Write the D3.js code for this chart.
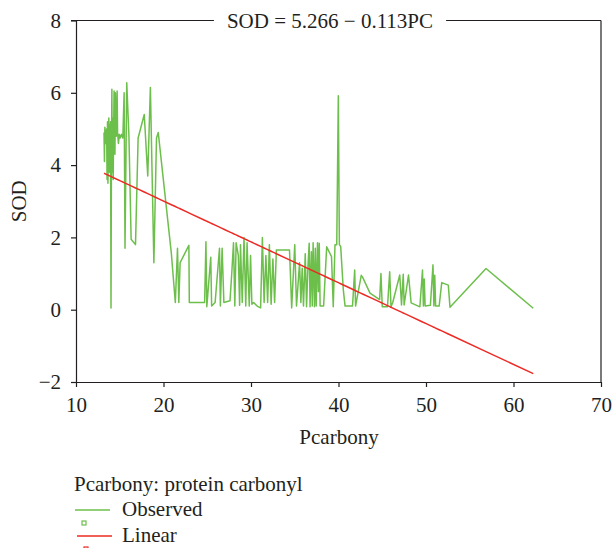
<!DOCTYPE html>
<html>
<head>
<meta charset="utf-8">
<script src="https://cdn.jsdelivr.net/npm/d3@7"></script>
<style>
  body { margin: 0; background: #fff; }
  text { font-family: "Liberation Serif", "DejaVu Serif", serif; fill: #231f20; }
</style>
</head>
<body>
<div id="chart"></div>
<script>
// observed points, sorted by Pcarbony
const pcarbony = [
  13.2, 13.25, 13.3, 13.4, 13.5, 13.55, 13.6, 13.65, 13.7, 13.75, 13.8, 13.85, 13.9, 13.95,
  14.0, 14.05, 14.1, 14.15, 14.2, 14.25, 14.3, 14.35, 14.45, 14.5, 14.6, 14.7, 14.75, 14.85,
  14.95, 15.05, 15.2, 15.35, 15.5, 15.6, 15.8, 16.05, 16.3, 16.8, 17.1, 17.8, 18.2, 18.5,
  18.9, 19.2, 19.4, 20.9, 21.35, 21.6, 21.75, 21.9, 22.9, 22.95, 24.7, 24.85, 24.95, 25.4,
  25.5, 25.9, 26.4, 26.5, 26.7, 26.9, 27.6, 27.8, 28.0, 28.15, 28.3, 28.55, 28.7, 28.8,
  29.0, 29.2, 29.4, 29.55, 29.8, 29.95, 30.1, 30.3, 30.7, 31.1, 31.3, 31.5, 31.7, 31.9,
  32.1, 32.3, 32.5, 32.7, 32.9, 34.4, 34.65, 35.0, 35.2, 35.55, 35.7, 35.85, 36.0, 36.2,
  36.35, 36.5, 36.65, 36.75, 36.9, 37.0, 37.1, 37.25, 37.35, 37.45, 37.6, 37.7, 37.8, 37.9,
  38.3, 38.65, 39.2, 39.4, 39.6, 39.8, 39.98, 40.1, 40.25, 40.55, 40.75, 41.6, 41.85, 41.95,
  42.6, 42.75, 43.6, 44.7, 44.85, 45.0, 45.6, 45.85, 46.0, 46.2, 47.0, 47.2, 47.4, 47.5,
  48.0, 48.3, 49.3, 49.6, 49.7, 49.8, 49.9, 50.5, 50.7, 50.8, 50.9, 51.0, 51.1, 51.5,
  51.8, 52.55, 52.74, 56.86, 62.26
];
const sodObserved = [
  4.9, 4.1, 5.05, 4.6, 5.0, 3.6, 5.2, 3.5, 4.7, 5.3, 3.8, 5.1, 4.0, 5.2,
  0.05, 4.2, 6.1, 3.8, 5.3, 3.6, 4.9, 6.05, 4.3, 6.0, 4.8, 6.05, 4.9, 4.6,
  4.85, 4.75, 4.85, 4.75, 6.0, 1.7, 6.28, 4.8, 1.95, 1.8, 4.75, 5.4, 3.7, 6.15,
  1.3, 4.75, 4.9, 1.55, 0.2, 1.7, 0.2, 1.3, 1.78, 0.2, 0.2, 1.88, 0.08, 1.45,
  0.1, 0.2, 1.7, 0.1, 1.7, 0.2, 0.25, 1.0, 1.85, 0.1, 1.85, 1.5, 0.12, 1.8,
  0.2, 2.0, 0.1, 1.85, 0.1, 1.5, 0.15, 0.2, 0.1, 0.05, 2.0, 0.2, 1.5, 0.2,
  1.8, 0.15, 1.4, 0.2, 1.65, 1.65, 0.05, 1.8, 0.1, 1.3, 0.2, 1.15, 0.1, 1.55,
  0.08, 1.15, 1.84, 0.08, 1.6, 0.1, 1.85, 0.08, 1.7, 0.1, 1.85, 0.5, 1.84, 0.1,
  0.1, 1.74, 1.47, 0.08, 1.8, 1.8, 5.92, 1.8, 1.75, 0.55, 0.1, 0.1, 1.1, 0.1,
  0.95, 0.9, 0.46, 0.28, 1.0, 0.08, 0.08, 1.05, 0.08, 0.2, 0.96, 0.13, 0.98, 0.13,
  0.96, 0.19, 0.08, 1.1, 0.1, 0.85, 0.1, 0.12, 0.87, 1.24, 0.1, 0.95, 0.1, 0.1,
  0.75, 0.68, 0.07, 1.14, 0.04
];
const fitIntercept = 5.266;
const fitSlope = -0.113;
const xTicks = [10, 20, 30, 40, 50, 60, 70];
const yTicks = [-2, 0, 2, 4, 6, 8];
const titleText = 'SOD = 5.266 \u2212 0.113PC';
const legendTitle = 'Pcarbony: protein carbonyl';
const seriesNames = ['Observed', 'Linear'];
const seriesColors = ['#6dbf4b', '#ee2a24'];

let dim = {width: 614, height: 548, left: 76, right: 601, top: 20.5, bottom: 382};
const ink = '#231f20';
const fontSize = 21;

let svg = d3.select('#chart').append('svg')
    .attr('width', dim.width)
    .attr('height', dim.height);

let scaleX = d3.scaleLinear().domain([10, 70]).range([dim.left, dim.right]);
let scaleY = d3.scaleLinear().domain([-2, 8]).range([dim.bottom, dim.top]);

let observed = pcarbony.map((x, i) => ({x: x, y: sodObserved[i]}));
let fitted = pcarbony.map(x => ({x: x, y: fitIntercept + fitSlope * x}));

let line = d3.line().x(d => scaleX(d.x)).y(d => scaleY(d.y));

// axes
let axisX = d3.axisBottom(scaleX).tickValues(xTicks).tickSize(5).tickSizeOuter(0).tickPadding(10)
    .tickFormat(d3.format('d'));
let axisY = d3.axisLeft(scaleY).tickValues(yTicks).tickSize(5).tickSizeOuter(0).tickPadding(10)
    .tickFormat(d => d < 0 ? '\u2212' + Math.abs(d) : d);

function styleAxis(g) {
  g.attr('font-size', fontSize).attr('font-family', null);
  g.selectAll('path, line').attr('stroke', ink).attr('stroke-width', 1.2);
  g.selectAll('text').attr('fill', ink);
}

svg.append('g')
    .attr('transform', `translate(0,${dim.bottom})`)
    .call(axisX)
    .call(styleAxis);

svg.append('g')
    .attr('transform', `translate(${dim.left},0)`)
    .call(axisY)
    .call(styleAxis);

// frame: right side and top with gap for the equation
svg.append('line')
    .attr('x1', dim.right).attr('x2', dim.right)
    .attr('y1', dim.top).attr('y2', dim.bottom)
    .attr('stroke', ink).attr('stroke-width', 1.2);

let tx = 330;
let title = svg.append('text')
    .attr('x', tx)
    .attr('y', dim.top + 7)
    .attr('text-anchor', 'middle')
    .attr('font-size', fontSize)
    .text(titleText);
let tw = title.node().getComputedTextLength();

svg.append('line')
    .attr('x1', dim.left - 5).attr('x2', tx - tw / 2 - 13)
    .attr('y1', dim.top).attr('y2', dim.top)
    .attr('stroke', ink).attr('stroke-width', 1.2);
svg.append('line')
    .attr('x1', tx + tw / 2 + 13).attr('x2', dim.right)
    .attr('y1', dim.top).attr('y2', dim.top)
    .attr('stroke', ink).attr('stroke-width', 1.2);

// series
svg.append('path')
    .datum(observed)
    .attr('d', line)
    .attr('fill', 'none')
    .attr('stroke', seriesColors[0])
    .attr('stroke-width', 1.5)
    .attr('stroke-linejoin', 'round');

svg.append('path')
    .datum(fitted)
    .attr('d', line)
    .attr('fill', 'none')
    .attr('stroke', seriesColors[1])
    .attr('stroke-width', 1.5);

// axis titles
svg.append('text')
    .attr('x', 339)
    .attr('y', 444)
    .attr('text-anchor', 'middle')
    .attr('font-size', fontSize)
    .text('Pcarbony');

svg.append('text')
    .attr('transform', `translate(26,${(dim.top + dim.bottom) / 2}) rotate(-90)`)
    .attr('text-anchor', 'middle')
    .attr('font-size', fontSize)
    .text('SOD');

// legend
let legend = svg.append('g');
legend.append('text')
    .attr('x', 74).attr('y', 491)
    .attr('font-size', fontSize)
    .text(legendTitle);

seriesNames.forEach((name, i) => {
  let y0 = 510 + i * 26;
  legend.append('line')
      .attr('x1', 75 + i * 2).attr('x2', 110 + i * 2)
      .attr('y1', y0).attr('y2', y0)
      .attr('stroke', seriesColors[i]).attr('stroke-width', 1.5);
  legend.append('rect')
      .attr('x', 82 + i * 2).attr('y', y0 + 11)
      .attr('width', 4).attr('height', 4)
      .attr('fill', 'none')
      .attr('stroke', seriesColors[i]).attr('stroke-width', 1.2);
  legend.append('text')
      .attr('x', 122).attr('y', y0 + 6)
      .attr('font-size', fontSize)
      .text(name);
});
</script>
</body>
</html>
